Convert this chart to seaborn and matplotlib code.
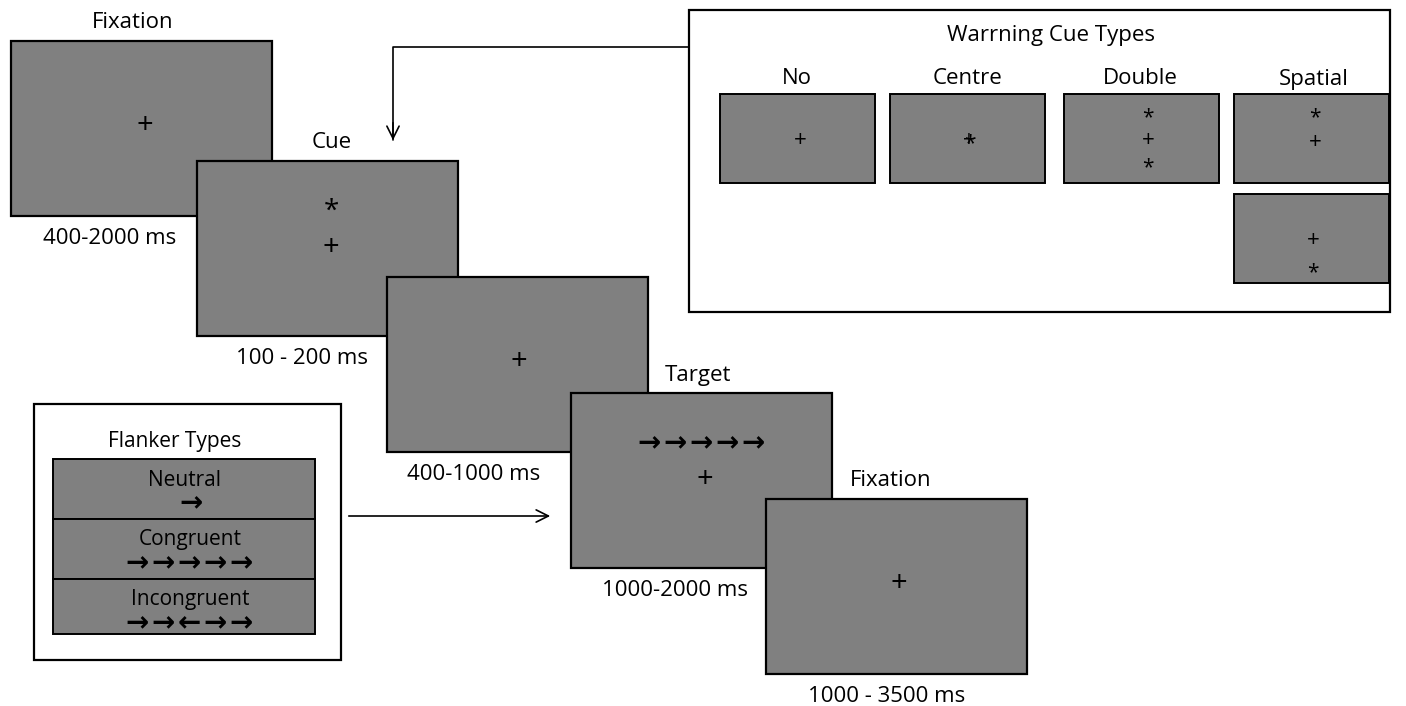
import matplotlib
matplotlib.use("Agg")
import matplotlib.pyplot as plt
import seaborn as sns
from matplotlib.patches import Rectangle

# trial sequence
screen_titles = ['Fixation', 'Cue', '', 'Target', 'Fixation']
screen_times = ['400-2000 ms', '100 - 200 ms', '400-1000 ms', '1000-2000 ms', '1000 - 3500 ms']

# warning cue panel
cue_box_title = 'Warrning Cue Types'
cue_types = ['No', 'Centre', 'Double', 'Spatial']

# flanker panel
flanker_box_title = 'Flanker Types'
flanker_types = ['Neutral', 'Congruent', 'Incongruent']
flanker_arrows = ['→', '→→→→→', '→→←→→']

GRAY = '#808080'
FONT = ['Open Sans', 'DejaVu Sans']
ARROW_FONT = ['DejaVu Sans']


def screen(ax, x, y, w, h, lw=1.6):
    ax.add_patch(Rectangle((x, y), w, h, fc=GRAY, ec='black', lw=lw))


def txt(ax, x, y, s, size=16, family=FONT, **kw):
    ax.text(x, y, s, ha='center', va='center', fontsize=size, family=family,
            color='black', **kw)


def arrows(ax, x, y, s):
    # small gap between the arrows, like the reference
    txt(ax, x, y, '\u200a'.join(s), size=20, family=ARROW_FONT, fontweight='bold')


def main():
    sns.set_style("white")
    fig = plt.figure(figsize=(14.06, 7.06), dpi=100)
    ax = fig.add_axes([0, 0, 1, 1])
    ax.set_xlim(0, 1406)
    ax.set_ylim(706, 0)
    ax.axis('off')

    # big screens, drawn back to front
    left = [11, 197, 387, 571, 766]
    top = [41, 161, 277, 393, 499]
    w, h = 261, 175
    title_x = [133, 332, 0, 698, 891]
    time_x = [110, 302, 474, 675, 887]
    for i in range(5):
        screen(ax, left[i], top[i], w, h)
        if screen_titles[i]:
            txt(ax, title_x[i], top[i] - 18, screen_titles[i])
        txt(ax, time_x[i], top[i] + h + 23, screen_times[i])

    # content of the big screens
    txt(ax, 145, 126, '+', size=21)
    txt(ax, 331, 212, '*', size=20)
    txt(ax, 331, 247, '+', size=21)
    txt(ax, 519, 362, '+', size=21)
    arrows(ax, 702, 443, flanker_arrows[1])
    txt(ax, 705, 479, '+', size=21)
    txt(ax, 899, 584, '+', size=21)

    # warning cue panel
    ax.add_patch(Rectangle((689, 10), 701, 302, fc='white', ec='black', lw=1.6))
    txt(ax, 1051, 35, cue_box_title, size=16)
    small_left = [720, 890, 1064, 1234]
    label_x = [797, 967, 1140, 1314]
    sw, sh = 155, 89
    for i, name in enumerate(cue_types):
        screen(ax, small_left[i], 94, sw, sh, lw=1.4)
        txt(ax, label_x[i], 79, name, size=16)
    screen(ax, 1234, 194, sw, sh, lw=1.4)
    txt(ax, 800, 140, '+', size=16)
    txt(ax, 970, 144, '*', size=15)
    txt(ax, 969, 141, '+', size=15)
    txt(ax, 1148, 118, '*', size=15)
    txt(ax, 1148, 141, '+', size=16)
    txt(ax, 1148, 168, '*', size=15)
    txt(ax, 1315, 118, '*', size=15)
    txt(ax, 1315, 142, '+', size=16)
    txt(ax, 1313, 240, '+', size=16)
    txt(ax, 1313, 273, '*', size=15)

    # arrow from cue panel to the cue screen
    ax.plot([689, 393, 393], [47, 47, 140], color='black', lw=1.2)
    ax.annotate('', xy=(393, 143), xytext=(393, 120),
                arrowprops=dict(arrowstyle='->', color='black', lw=1.2,
                                mutation_scale=22))

    # flanker panel
    ax.add_patch(Rectangle((34, 404), 307, 256, fc='white', ec='black', lw=1.6))
    txt(ax, 175, 441, flanker_box_title, size=15)
    row_top = [459, 519, 579]
    row_h = [60, 60, 55]
    name_x = [184, 190, 190]
    arrow_x = [191, 190, 190]
    for i in range(3):
        screen(ax, 53, row_top[i], 262, row_h[i], lw=1.4)
        txt(ax, name_x[i], row_top[i] + 21, flanker_types[i], size=15)
        arrows(ax, arrow_x[i], row_top[i] + 44, flanker_arrows[i])

    # arrow from flanker panel to the target screen
    ax.annotate('', xy=(553, 516), xytext=(346, 516),
                arrowprops=dict(arrowstyle='->', color='black', lw=1.2,
                                mutation_scale=22))

    fig.savefig('out.png', dpi=100)
    plt.close(fig)


if __name__ == "__main__":
    main()
